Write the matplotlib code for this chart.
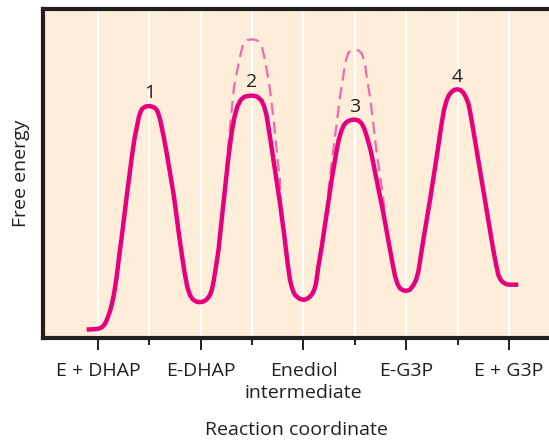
import matplotlib
matplotlib.use("Agg")
import matplotlib.pyplot as plt

# energy profile
# x: reaction coordinate (0 = E + DHAP ... 4 = E + G3P), e: free energy (arbitrary units)
curve_x = [-0.110, -0.049, 0.000, 0.034, 0.058, 0.078, 0.097, 0.117, 0.136, 0.156,
           0.182, 0.204, 0.231, 0.279, 0.328, 0.355, 0.377, 0.399, 0.418, 0.433,
           0.464, 0.506, 0.548, 0.569, 0.584, 0.606, 0.636, 0.669, 0.740, 0.791,
           0.818, 0.847, 0.869, 0.895, 0.915, 0.934, 0.963, 0.993, 1.022, 1.051,
           1.073, 1.090, 1.109, 1.122, 1.148, 1.173, 1.217, 1.270, 1.299, 1.328,
           1.358, 1.392, 1.431, 1.496, 1.547, 1.591, 1.616, 1.640, 1.674, 1.723,
           1.771, 1.810, 1.849, 1.869, 1.885, 1.901, 1.917, 1.959, 2.005, 2.047,
           2.073, 2.089, 2.107, 2.122, 2.144, 2.177, 2.226, 2.274, 2.323, 2.345,
           2.372, 2.394, 2.420, 2.452, 2.494, 2.535, 2.566, 2.589, 2.615, 2.637,
           2.657, 2.712, 2.777, 2.842, 2.871, 2.891, 2.915, 2.939, 2.968, 2.997,
           3.032, 3.068, 3.095, 3.117, 3.166, 3.231, 3.296, 3.345, 3.367, 3.394,
           3.416, 3.442, 3.469, 3.497, 3.528, 3.555, 3.577, 3.604, 3.625, 3.652,
           3.701, 3.750, 3.799, 3.847, 3.873, 3.896, 3.917, 3.944, 3.975, 4.010,
           4.090]
curve_e = [8.0, 8.2, 8.7, 10.0, 12.2, 15.5, 20.5, 26.5, 33.5, 43.5,
           60.5, 79.5, 100.5, 140.5, 179.5, 198.5, 209.5, 221.0, 226.5, 229.0,
           231.0, 231.5, 230.0, 228.0, 225.0, 217.5, 202.5, 184.5, 140.8, 100.8,
           81.5, 62.5, 50.8, 42.5, 39.2, 37.2, 35.7, 35.3, 35.8, 37.5,
           40.0, 42.5, 48.0, 54.2, 70.5, 87.5, 130.5, 180.5, 203.5, 220.5,
           231.5, 238.0, 241.0, 242.0, 241.0, 237.0, 231.5, 222.5, 200.5, 167.5,
           134.5, 104.5, 71.5, 57.5, 50.8, 46.0, 42.5, 38.8, 37.5, 39.5,
           42.0, 44.2, 48.5, 54.2, 70.5, 90.5, 124.5, 157.5, 187.5, 198.5,
           207.5, 212.5, 215.5, 217.2, 218.0, 217.0, 214.0, 209.5, 201.5, 193.5,
           185.5, 157.5, 124.5, 87.5, 71.5, 61.5, 53.5, 49.2, 47.2, 46.7,
           47.5, 52.0, 57.5, 65.5, 97.5, 137.5, 180.5, 214.5, 227.5, 237.5,
           242.5, 245.8, 247.7, 248.2, 247.5, 244.8, 241.0, 234.2, 223.5, 207.5,
           177.5, 147.5, 117.5, 87.5, 73.5, 62.5, 58.0, 55.0, 53.3, 52.8,
           52.8]

# uncatalysed (dashed) barriers over peaks 2 and 3
dash2_x = [1.217, 1.241, 1.268, 1.301, 1.324, 1.350, 1.382, 1.414, 1.450, 1.496,
           1.538, 1.572, 1.596, 1.625, 1.648, 1.674, 1.713, 1.745, 1.771, 1.781]
dash2_e = [130.5, 159.5, 192.5, 227.5, 250.5, 264.2, 280.8, 294.0, 297.5, 298.2,
           297.5, 295.5, 290.5, 277.5, 264.2, 247.5, 214.5, 180.8, 157.5, 127.5]
dash3_x = [2.241, 2.258, 2.290, 2.323, 2.355, 2.387, 2.404, 2.436, 2.467, 2.501,
           2.535, 2.566, 2.598, 2.615, 2.647, 2.679, 2.712, 2.745, 2.777, 2.793]
dash3_e = [144.5, 160.8, 187.5, 214.2, 240.8, 260.8, 274.2, 284.8, 287.2, 287.7,
           287.0, 284.2, 274.2, 260.8, 240.8, 214.2, 184.2, 162.5, 137.5, 125.5]

peak_labels = ["1", "2", "3", "4"]
peak_x = [0.5, 1.5, 2.5, 3.5]
peak_label_e = [244.5, 255.5, 230.5, 260.5]

tick_pos = [0, 1, 2, 3, 4]
tick_labels = ["E + DHAP", "E-DHAP", "Enediol\nintermediate", "E-G3P", "E + G3P"]
minor_pos = [0.5, 1.5, 2.5, 3.5]

plt.rcParams['font.family'] = ['Open Sans', 'DejaVu Sans']
dark = '#231F20'
pink = '#E6007E'
fs = 14

fig = plt.figure(figsize=(5.49, 4.42), dpi=100)
ax = fig.add_axes([0.0783, 0.2364, 0.9217, 0.7437])
ax.set_facecolor('#FDEDD9')

for x in tick_pos + minor_pos:
    ax.axvline(x, color='white', lw=1.6, zorder=1)

ax.plot(dash2_x, dash2_e, color='#F06AAE', lw=1.6, dashes=(5.5, 3), zorder=2)
ax.plot(dash3_x, dash3_e, color='#F06AAE', lw=1.6, dashes=(5.5, 3), zorder=2)
ax.plot(curve_x, curve_e, color=pink, lw=3.2, solid_capstyle='butt',
        solid_joinstyle='round', zorder=3)

for lab, x, e in zip(peak_labels, peak_x, peak_label_e):
    ax.text(x, e, lab, ha='center', va='center', fontsize=fs, color=dark)

ax.set_xlim(-0.535, 4.389)
ax.set_ylim(0, 328.7)
ax.set_xticks(tick_pos)
ax.set_xticklabels(tick_labels, fontsize=fs, color=dark, linespacing=1.3)
ax.set_xticks(minor_pos, minor=True)
ax.set_yticks([])
ax.tick_params(axis='x', which='major', direction='out', length=8.3, width=1.4,
               color=dark, pad=9)
ax.tick_params(axis='x', which='minor', direction='out', length=4.7, width=1.4,
               color=dark)

ax.spines['right'].set_visible(False)
for s in ['left', 'top', 'bottom']:
    ax.spines[s].set_linewidth(3.0)
    ax.spines[s].set_color(dark)

ax.set_xlabel('Reaction coordinate', fontsize=fs, color=dark, labelpad=14)
ax.set_ylabel('Free energy', fontsize=fs, color=dark, labelpad=9)

fig.savefig('out.png', dpi=100)
plt.close(fig)
